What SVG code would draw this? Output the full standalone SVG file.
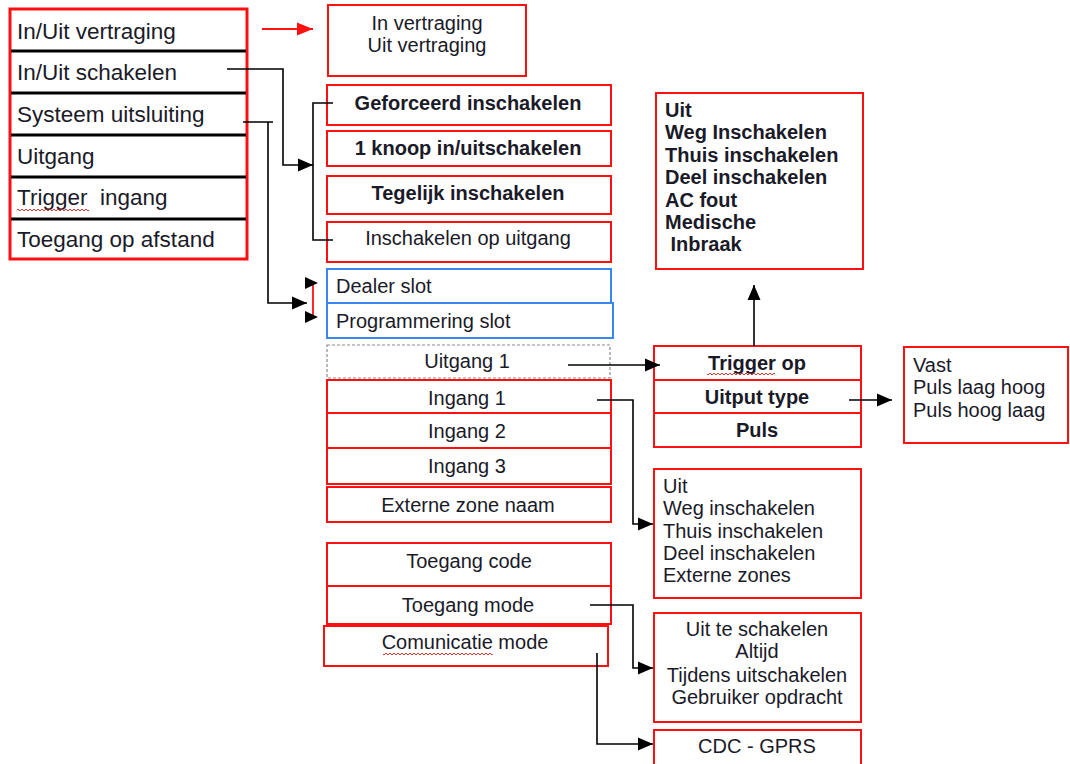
<svg xmlns="http://www.w3.org/2000/svg" width="1070" height="764" viewBox="0 0 1070 764">
<style>
text{font-family:"Liberation Sans",Arial,sans-serif;font-size:20px;fill:#1a1a28}
.menu{font-size:22.5px}
.b{font-weight:bold}
.c{text-anchor:middle}
.pre{white-space:pre}
.red{fill:#fff;stroke:#ff1010;stroke-width:2}
.blue{fill:#fff;stroke:#3a86ef;stroke-width:2}
.dot{fill:#fff;stroke:#8a8a8a;stroke-width:1.2;stroke-dasharray:3 2}
.sep{stroke:#000;stroke-width:3}
.ln{fill:none;stroke:#000;stroke-width:1.6}
.rl{fill:none;stroke:#ff1010;stroke-width:1.8}
</style>
<defs>
<marker id="ah" markerUnits="userSpaceOnUse" markerWidth="16" markerHeight="14" refX="15" refY="7" orient="auto"><path d="M0,0.5 L15,7 L0,13.5 z" fill="#000"/></marker>
<marker id="ahr" markerUnits="userSpaceOnUse" markerWidth="17" markerHeight="14" refX="16" refY="7" orient="auto"><path d="M0,0.5 L16,7 L0,13.5 z" fill="#ff1010"/></marker>
<pattern id="squig" patternUnits="userSpaceOnUse" width="4" height="4"><path d="M0,3 L2,1 L4,3" fill="none" stroke="#e02020" stroke-width="0.9"/></pattern>
</defs>
<rect width="1070" height="764" fill="#fff"/>

<g id="menu">
<rect x="10" y="9" width="237" height="250" fill="#fff" stroke="#ff1010" stroke-width="3"/>
<line class="sep" x1="11" y1="51" x2="246" y2="51"/>
<line class="sep" x1="11" y1="93" x2="246" y2="93"/>
<line class="sep" x1="11" y1="135" x2="246" y2="135"/>
<line class="sep" x1="11" y1="177" x2="246" y2="177"/>
<line class="sep" x1="11" y1="219" x2="246" y2="219"/>
<g id="m-vertraging"><text class="menu" x="17" y="39">In/Uit vertraging</text></g>
<g id="m-schakelen"><text class="menu" x="17" y="80">In/Uit schakelen</text></g>
<g id="m-systeem"><text class="menu" x="17" y="122">Systeem uitsluiting</text></g>
<g id="m-uitgang"><text class="menu" x="17" y="164">Uitgang</text></g>
<g id="m-trigger"><text class="menu pre" x="17" y="205">Trigger  ingang</text><rect x="17" y="208" width="72" height="4" fill="url(#squig)"/></g>
<g id="m-toegang"><text class="menu" x="17" y="247">Toegang op afstand</text></g>
</g>

<g id="vertraging-opties"><rect class="red" x="328" y="5" width="198" height="71"/><text class="c" x="427" y="30">In vertraging</text><text class="c" x="427" y="52">Uit vertraging</text></g>

<g id="geforceerd"><rect class="red" x="327" y="85" width="284" height="40"/><text class="c b" x="468" y="110">Geforceerd inschakelen</text></g>
<g id="knoop"><rect class="red" x="327" y="131" width="284" height="35"/><text class="c b" x="468" y="155">1 knoop in/uitschakelen</text></g>
<g id="tegelijk"><rect class="red" x="327" y="176" width="284" height="38"/><text class="c b" x="468" y="200">Tegelijk inschakelen</text></g>
<g id="op-uitgang"><rect class="red" x="327" y="222" width="284" height="40"/><text class="c" x="468" y="245">Inschakelen op uitgang</text></g>

<g id="dealer"><rect class="blue" x="327" y="269" width="284" height="34"/><text x="336" y="293">Dealer slot</text></g>
<g id="programmering"><rect class="blue" x="327" y="303" width="286" height="35"/><text x="336" y="328">Programmering slot</text></g>

<g id="uitgang1"><rect class="dot" x="327" y="345" width="283" height="33"/><text class="c" x="467" y="368">Uitgang 1</text></g>
<g id="ingang1"><rect class="red" x="327" y="380" width="284" height="33"/><text class="c" x="467" y="405">Ingang 1</text></g>
<g id="ingang2"><rect class="red" x="327" y="413" width="284" height="35"/><text class="c" x="467" y="438">Ingang 2</text></g>
<g id="ingang3"><rect class="red" x="327" y="448" width="284" height="36"/><text class="c" x="467" y="473">Ingang 3</text></g>
<g id="externe"><rect class="red" x="327" y="487" width="284" height="35"/><text class="c" x="468" y="512">Externe zone naam</text></g>

<g id="toegang-code"><rect class="red" x="327" y="543" width="284" height="43"/><text class="c" x="469" y="568">Toegang code</text></g>
<g id="toegang-mode"><rect class="red" x="327" y="586" width="284" height="38"/><text class="c" x="468" y="612">Toegang mode</text></g>
<g id="comunicatie"><rect class="red" x="324" y="626" width="284" height="40"/><text class="c" x="465" y="649">Comunicatie mode</text><rect x="383" y="651" width="110" height="4" fill="url(#squig)"/></g>

<g id="trigger-opties"><rect class="red" x="656" y="93" width="207" height="176"/>
<text class="b" x="665" y="117">Uit</text>
<text class="b" x="665" y="139">Weg Inschakelen</text>
<text class="b" x="665" y="162">Thuis inschakelen</text>
<text class="b" x="665" y="184">Deel inschakelen</text>
<text class="b" x="665" y="207">AC fout</text>
<text class="b" x="665" y="229">Medische</text>
<text class="b pre" x="665" y="251"> Inbraak</text>
</g>

<g id="uitgang-instellingen">
<rect class="red" x="654" y="346" width="207" height="101"/>
<line x1="654" y1="380" x2="861" y2="380" stroke="#ff1010" stroke-width="2"/>
<line x1="654" y1="413" x2="861" y2="413" stroke="#ff1010" stroke-width="2"/>
<g id="trigger-op"><text class="c b" x="757" y="370">Trigger op</text><rect x="707" y="371" width="68" height="4" fill="url(#squig)"/></g>
<g id="uitput-type"><text class="c b" x="757" y="404">Uitput type</text></g>
<g id="puls"><text class="c b" x="757" y="437">Puls</text></g>
</g>

<g id="puls-opties"><rect class="red" x="904" y="347" width="164" height="96"/>
<text x="913" y="372">Vast</text><text x="913" y="394">Puls laag hoog</text><text x="913" y="417">Puls hoog laag</text></g>

<g id="ingang-opties"><rect class="red" x="654" y="469" width="207" height="129"/>
<text x="663" y="493">Uit</text><text x="663" y="515">Weg inschakelen</text><text x="663" y="538">Thuis inschakelen</text><text x="663" y="560">Deel inschakelen</text><text x="663" y="582">Externe zones</text></g>

<g id="mode-opties"><rect class="red" x="654" y="613" width="207" height="109"/>
<text class="c" x="757" y="636">Uit te schakelen</text><text class="c" x="757" y="658">Altijd</text><text class="c" x="757" y="682">Tijdens uitschakelen</text><text class="c" x="757" y="704">Gebruiker opdracht</text></g>

<g id="cdc"><rect class="red" x="654" y="730" width="207" height="40"/><text class="c" x="757" y="753">CDC - GPRS</text></g>

<g id="connectors">
<path class="rl" d="M262,29 H313" marker-end="url(#ahr)"/>
<path class="ln" d="M227,69 H283 V165 H313" marker-end="url(#ah)"/>
<path class="ln" d="M333,103 H313 V240 H333"/>
<path class="ln" d="M243,122 H273 M268,122 V303 H307" marker-end="url(#ah)"/>
<path class="rl" d="M313,283 V317"/>
<path d="M305,277 L318,283 L305,289 z" fill="#000"/>
<path d="M305,311 L318,317 L305,323 z" fill="#000"/>
<path class="ln" d="M568,365 H660" marker-end="url(#ah)"/>
<path class="ln" d="M754,346 V285" marker-end="url(#ah)"/>
<path class="ln" d="M849,400 H892" marker-end="url(#ah)"/>
<path class="ln" d="M597,400 H633 V524 H653" marker-end="url(#ah)"/>
<path class="ln" d="M590,605 H633 V668 H653" marker-end="url(#ah)"/>
<path class="ln" d="M597,653 V744 H653" marker-end="url(#ah)"/>
</g>
</svg>
